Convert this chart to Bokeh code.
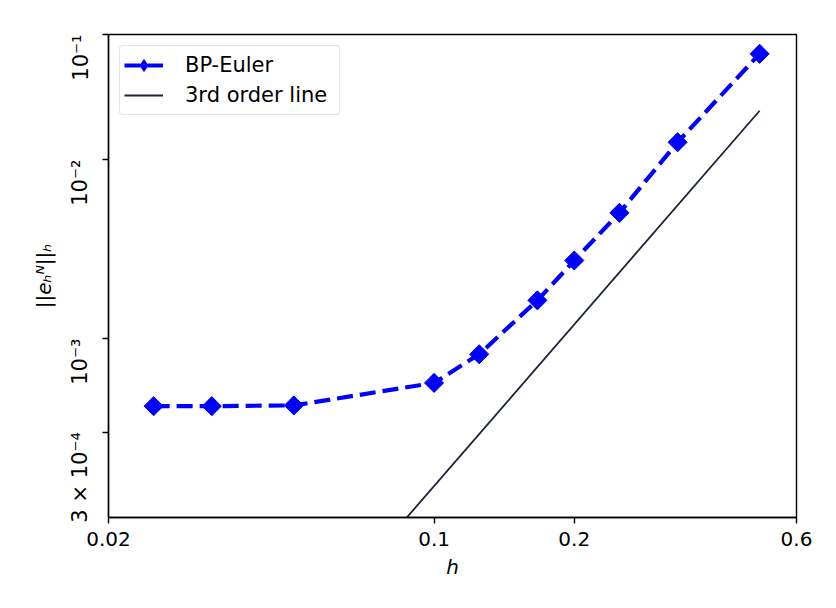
import math
from bokeh.plotting import figure
from bokeh.models import FixedTicker, Range1d, Legend, LegendItem
from bokeh.embed import file_html
from bokeh.resources import INLINE

# ---- data ----
h_values = [0.025, 0.03333, 0.05, 0.1, 0.125, 0.16667, 0.2, 0.25, 0.33333, 0.5]
bp_euler_err = [4.19e-4, 4.19e-4, 4.23e-4, 5.65e-4, 8.17e-4, 1.635e-3, 2.73e-3, 5.04e-3, 1.25e-2, 3.90e-2]

order3_h = [0.025, 0.5]
order3_err = [2.34e-6, 1.875e-2]

x_ticks = [0.02, 0.1, 0.2, 0.6]
x_tick_labels = ["0.02", "0.1", "0.2", "0.6"]
y_ticks = [0.05, 1e-2, 1e-3, 3e-4]
y_tick_labels = ["10\u207b\u00b9", "10\u207b\u00b2", "10\u207b\u00b3", "3 \u00d7 10\u207b\u2074"]

x_limits = (0.02, 0.6)
y_limits = (1e-4, 0.05)

FONT = "DejaVu Sans"
BLUE = "#0000ff"

p = figure(
    x_axis_type="log", y_axis_type="log",
    x_range=Range1d(*x_limits), y_range=Range1d(*y_limits),
    frame_width=688, frame_height=483,
    min_border_left=108, min_border_top=34, min_border_right=20, min_border_bottom=62,
    output_backend="svg", toolbar_location=None,
)
p.background_fill_color = "white"
p.border_fill_color = "white"
p.xgrid.visible = False
p.ygrid.visible = False
p.outline_line_color = "black"
p.outline_line_width = 1.4
p.outline_line_alpha = 1.0

r_line = p.line(h_values, bp_euler_err, line_color=BLUE, line_width=4.2,
                line_dash="16 7", line_join="round")
# diamond (used as legend swatch; fully covered by the rotated squares below)
r_dia = p.scatter(h_values, bp_euler_err, marker="diamond", size=18,
                  fill_color=BLUE, line_color=BLUE)
r_mark = p.scatter(h_values, bp_euler_err, marker="square", angle=math.pi / 4,
                   size=13.5, fill_color=BLUE, line_color=BLUE)
r_ref = p.line(order3_h, order3_err, line_color="#1b2339", line_width=1.8)

for ax in (p.xaxis[0], p.yaxis[0]):
    ax.axis_line_color = "black"
    ax.axis_line_width = 1.4
    ax.major_tick_line_color = "black"
    ax.major_tick_line_width = 1.4
    ax.major_tick_out = 6
    ax.major_tick_in = 0
    ax.minor_tick_out = 0
    ax.minor_tick_in = 0
    ax.major_label_text_font = FONT
    ax.major_label_text_color = "black"
    ax.axis_label_text_font = FONT
    ax.axis_label_text_color = "black"
    ax.axis_label_text_font_size = "20px"
    ax.axis_label_text_font_style = "italic"

xa = p.xaxis[0]
xa.ticker = FixedTicker(ticks=x_ticks)
xa.major_label_overrides = dict(zip(x_ticks, x_tick_labels))
xa.major_label_text_font_size = "20px"
xa.major_label_standoff = 8
xa.axis_label = "h"
xa.axis_label_standoff = 6

ya = p.yaxis[0]
ya.ticker = FixedTicker(ticks=y_ticks)
ya.major_label_overrides = dict(zip(y_ticks, y_tick_labels))
ya.major_label_text_font_size = "21px"
ya.major_label_orientation = math.pi / 2
ya.major_label_standoff = 22
ya.axis_label = "||e\u2095\u1d3a||\u2095"
ya.axis_label_standoff = -2

legend = Legend(
    items=[
        LegendItem(label="BP-Euler", renderers=[r_line, r_dia]),
        LegendItem(label="3rd order line", renderers=[r_ref]),
    ],
    location="top_left",
    margin=11,
    padding=4,
    spacing=0,
    glyph_width=39,
    glyph_height=30,
    label_height=30,
    label_width=150,
    label_standoff=22,
    label_text_font=FONT,
    label_text_font_size="21px",
    label_text_color="black",
    border_line_color="#cccccc",
    border_line_width=1.2,
    background_fill_color="white",
    background_fill_alpha=0.8,
)
try:
    legend.border_radius = 4
except Exception:
    pass
p.add_layout(legend)

open("out.html", "w").write(file_html(p, INLINE))
